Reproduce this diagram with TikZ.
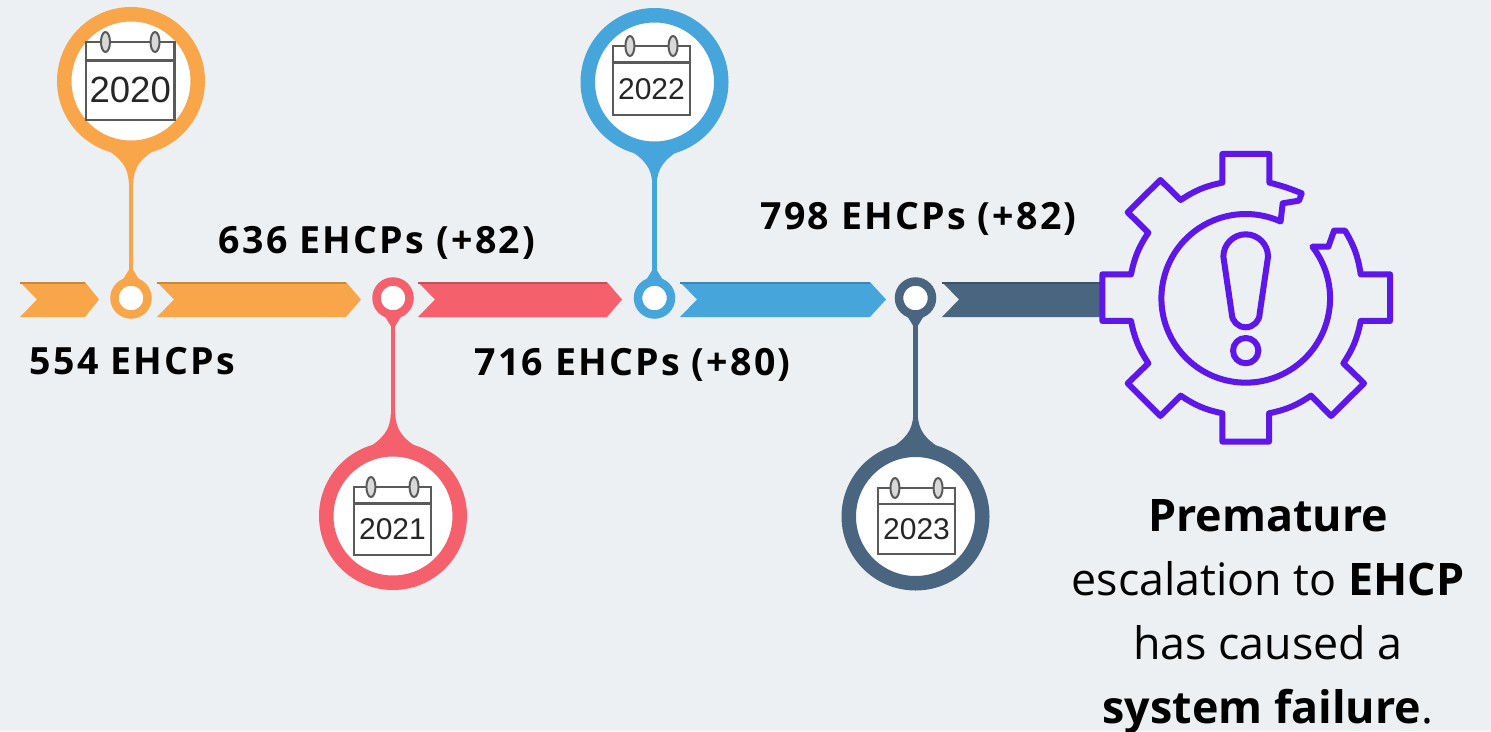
\documentclass[tikz,border=0pt]{standalone}
\usepackage{fontspec}
\setmainfont{Open Sans}
\newfontfamily\calfont{Liberation Sans}
\newfontfamily\valuefont[LetterSpace=6]{Open Sans}
\definecolor{bgc}{HTML}{ECF0F3}
\definecolor{orangec}{HTML}{F9A54A}
\definecolor{redc}{HTML}{F4606C}
\definecolor{bluec}{HTML}{46A5DA}
\definecolor{darkc}{HTML}{4A6580}
\definecolor{gearc}{HTML}{5E17EB}
\definecolor{calc}{HTML}{5A5A5A}
\tikzset{
  x=1pt,y=-1pt,
  bigring/.style={circle,fill=white,line width=14.5pt,minimum size=133.5pt,inner sep=0pt,outer sep=0pt},
  smallring/.style={circle,fill=white,line width=8.5pt,minimum size=33pt,inner sep=0pt,outer sep=0pt},
  stemline/.style={line width=4.5pt},
  value/.style={font=\valuefont\fontsize{37.5}{44}\selectfont\bfseries,text=black,inner sep=0pt},
  gearline/.style={draw=gearc,line width=6pt,line join=round,line cap=round},
  calframe/.style={draw=calc,line width=2.5pt},
  calyear/.style={inner sep=0pt,text=black!85}
}
% #1 name, #2 colour, #3 x, #4 big y, #5 direction (+1 big above, -1 big below)
\newcommand{\pinmark}[5]{%
  \fill[#2] ({#3-28},{#4+#5*66}) .. controls ({#3-9},{#4+#5*78}) and ({#3-3},{#4+#5*86}) .. ({#3-2.2},{#4+#5*102})
     -- ({#3+2.2},{#4+#5*102}) .. controls ({#3+3},{#4+#5*86}) and ({#3+9},{#4+#5*78}) .. ({#3+28},{#4+#5*66}) -- cycle;
  \fill[#2] ({#3-9},{298-#5*17}) -- ({#3-2.2},{298-#5*28}) -- ({#3+2.2},{298-#5*28}) -- ({#3+9},{298-#5*17}) -- cycle;
  \node[bigring,draw=#2] (big#1) at (#3,#4) {};
  \node[smallring,draw=#2] (small#1) at (#3,298) {};
  \draw[stemline,#2] (big#1) -- (small#1);
}
% #1 name, #2 x0, #3 y0, #4 x1, #5 y1, #6 font size, #7 year
\newcommand{\calicon}[7]{%
  \draw[calframe] (#2,#3) rectangle (#4,#5);
  \draw[calframe] (#2,{#3+0.24*(#5-#3)}) -- (#4,{#3+0.24*(#5-#3)});
  \draw[calc,fill=black!15,line width=2pt] ({#2+0.22*(#4-#2)},#3) ellipse [x radius=4.5,y radius=10];
  \draw[calc,fill=black!15,line width=2pt] ({#2+0.78*(#4-#2)},#3) ellipse [x radius=4.5,y radius=10];
  \node[calyear,font=\calfont\fontsize{#6}{#6}\selectfont] (year#1) at ({(#2+#4)/2},{#3+0.62*(#5-#3)}) {#7};
}
% #1 colour, #2 left, #3 right end of body, #4 tip
\newcommand{\chevbar}[4]{%
  \fill[#1] (#2,282) -- (#3,282) -- (#4,299.5) -- (#3,317) -- (#2,317) -- ({#2+17},299.5) -- cycle;
  \draw[#1!82!black,line width=1.5pt] (#2,283) -- (#3,283);
}
\begin{document}
\begin{tikzpicture}
\useasboundingbox (0,0) rectangle (1491,731);
\fill[bgc] (0,0) rectangle (1491,731);
% timeline bars
\chevbar{orangec}{20}{85}{99}
\chevbar{orangec}{157}{346}{361}
\chevbar{redc}{418}{607}{622}
\chevbar{bluec}{680}{870}{886}
\fill[darkc] (942,282) -- (1100,282) -- (1100,317) -- (942,317) -- (959,299.5) -- cycle;
\draw[darkc!82!black,line width=1.5pt] (942,283) -- (1100,283);
% pins
\pinmark{a}{orangec}{131}{81}{1}
\pinmark{b}{redc}{393}{516}{-1}
\pinmark{c}{bluec}{654.5}{82}{1}
\pinmark{d}{darkc}{915.5}{516.5}{-1}
% calendars
\calicon{a}{86}{42}{174.5}{120}{36.5}{2020}
\calicon{b}{354}{487}{431}{555}{30}{2021}
\calicon{c}{613}{46}{690}{115}{30}{2022}
\calicon{d}{878}{488}{955}{554}{30}{2023}
% values
\node[value] (v1) at (132.5,361.5) {554 EHCPs};
\node[value] (v2) at (377,243) {636 EHCPs (+82)};
\node[value] (v3) at (632.5,365) {716 EHCPs (+80)};
\node[value] (v4) at (918.5,219) {798 EHCPs (+82)};
% gear
\begin{scope}[shift={(1245.7,298.3)},x=0.33333pt,y=0.33333pt]
\path[gearline]
 (168,315) to[bend right=4] (71,347) -- (71,433) -- (-70,433) -- (-70,347)
 to[bend right=11] (-195,295) -- (-256,355) -- (-354,258) -- (-292,197)
 to[bend right=11] (-344,72) -- (-430,72) -- (-430,-68) -- (-344,-68)
 to[bend right=11] (-292,-195) -- (-354,-255) -- (-256,-353) -- (-195,-292)
 to[bend right=11] (-70,-345) -- (-70,-430) -- (70,-430) -- (70,-345)
 to[bend right=11] (196,-292) -- (256,-353) -- (355,-255) -- (293,-195)
 to[bend right=11] (345,-68) -- (433,-68) -- (433,72) -- (345,72)
 to[bend right=11] (298,203) -- (265,203) -- (248,155) -- (200,155)
 arc[start angle=37.8,end angle=-294.4,radius=253] -- (111,285) -- (160,293) -- cycle;
\path[gearline] (-67,125) arc[start angle=180,end angle=0,radius=67] -- (42,-45)
 arc[start angle=0,end angle=-180,radius=42] -- cycle;
\path[gearline] (0,-157) circle[radius=38];
\end{scope}
% caption
\node[align=center,anchor=base,inner sep=0pt,font=\fontsize{44.8}{64}\selectfont] (cap) at (1268,723)
 {\textbf{Premature}\\escalation to \textbf{EHCP}\\has caused a\\\textbf{system failure}.};
\end{tikzpicture}
\end{document}
